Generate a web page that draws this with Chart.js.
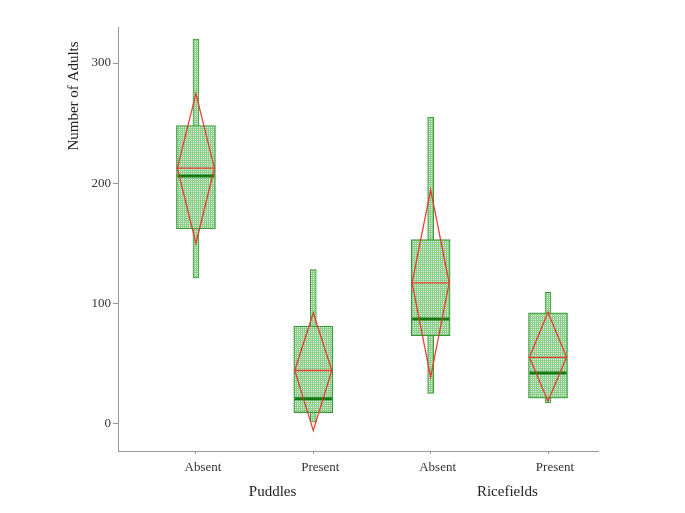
<!DOCTYPE html>
<html>
<head>
<meta charset="utf-8">
<script src="https://cdn.jsdelivr.net/npm/chart.js@4.4.1/dist/chart.umd.min.js"></script>
<style>
  html, body { margin: 0; padding: 0; background: #fff; }
  #wrap { width: 685px; height: 513px; }
</style>
</head>
<body>
<div id="wrap"><canvas id="chart" width="685" height="513"></canvas></div>
<script>
/* ── DATA ── */
const positions   = [1, 2, 3, 4];
const tickLabels  = ['Absent', 'Present', 'Absent', 'Present'];
const groupLabels = ['Puddles', 'Ricefields'];
const yTicks      = [0, 100, 200, 300];

const whiskerLow  = [121, 1, 25, 17];
const whiskerHigh = [320, 128, 255, 109];
const q1          = [162, 9, 73, 21];
const q3          = [248, 81, 153, 92];
const median      = [206, 20.5, 87, 42];
const mean        = [212.5, 44, 117, 55];
const ciLow       = [150, -6, 38.5, 18.5];
const ciHigh      = [274.5, 92, 194.5, 92.5];

/* ── STYLE ── */
const FONT      = 'Liberation Serif';
const axisClr   = '#999999';
const textClr   = '#333333';
const boxEdge   = '#359a35';
const medianClr = '#137a13';
const redClr    = 'rgba(234,50,38,0.92)';
const halfW     = 0.158;   // diamond / median half width in x units

function makeHatch() {
  const c = document.createElement('canvas');
  c.width = 2; c.height = 2;
  const g = c.getContext('2d');
  g.fillStyle = '#8ccd8c';
  g.fillRect(0, 0, 2, 2);
  g.fillStyle = '#dcf2dc';
  g.fillRect(1, 1, 1, 1);
  return g.createPattern(c, 'repeat');
}
const hatch = makeHatch();

/* build datasets */
const whiskerData = positions.map((x, i) => ({ x, y: [whiskerLow[i], whiskerHigh[i]] }));
const boxData     = positions.map((x, i) => ({ x, y: [q1[i], q3[i]] }));

const medianData = [];
const diamondData = [];
positions.forEach((x, i) => {
  medianData.push({ x: x - halfW, y: median[i] }, { x: x + halfW, y: median[i] }, { x: x + halfW, y: null });
  diamondData.push(
    { x: x - halfW, y: mean[i] },
    { x: x,         y: ciHigh[i] },
    { x: x + halfW, y: mean[i] },
    { x: x,         y: ciLow[i] },
    { x: x - halfW, y: mean[i] },
    { x: x + halfW, y: mean[i] },
    { x: x + halfW, y: null }
  );
});

/* extra text: rotated y title + group labels under the axis */
const textPlugin = {
  id: 'extraText',
  afterDraw(chart) {
    const { ctx, scales } = chart;
    ctx.save();
    ctx.fillStyle = '#222';
    ctx.font = `15px "${FONT}"`;
    ctx.textAlign = 'center';
    ctx.textBaseline = 'middle';
    groupLabels.forEach((g, gi) => {
      const mid = (positions[gi * 2] + positions[gi * 2 + 1]) / 2;
      ctx.fillText(g, scales.x.getPixelForValue(mid) + 18, 492);
    });
    ctx.translate(74, 96);
    ctx.rotate(-Math.PI / 2);
    ctx.fillText('Number of Adults', 0, 0);
    ctx.restore();
  }
};

new Chart(document.getElementById('chart').getContext('2d'), {
  type: 'bar',
  plugins: [textPlugin],
  data: {
    datasets: [
      {
        type: 'bar',
        data: whiskerData,
        backgroundColor: hatch,
        borderColor: boxEdge,
        borderWidth: 1,
        borderSkipped: false,
        barThickness: 6,
        grouped: false,
        order: 4
      },
      {
        type: 'bar',
        data: boxData,
        backgroundColor: hatch,
        borderColor: boxEdge,
        borderWidth: 1.2,
        borderSkipped: false,
        barThickness: 39,
        grouped: false,
        order: 3
      },
      {
        type: 'line',
        data: medianData,
        borderColor: medianClr,
        borderWidth: 3,
        pointRadius: 0,
        spanGaps: false,
        order: 2
      },
      {
        type: 'line',
        data: diamondData,
        borderColor: redClr,
        borderWidth: 1.3,
        pointRadius: 0,
        spanGaps: false,
        order: 1
      }
    ]
  },
  options: {
    responsive: false,
    animation: false,
    layout: { padding: { top: 27, right: 87, left: 0, bottom: 0 } },
    plugins: { legend: { display: false }, tooltip: { enabled: false } },
    scales: {
      x: {
        type: 'linear',
        min: 0.336,
        max: 4.426,
        offset: false,
        afterBuildTicks: s => { s.ticks = positions.map(v => ({ value: v })); },
        afterFit: s => { s.height = 62; },
        grid: { offset: false, drawOnChartArea: false, drawTicks: true, tickLength: 3, color: axisClr },
        border: { display: true, color: axisClr, width: 1 },
        ticks: {
          padding: 6,
          labelOffset: 7,
          color: textClr,
          font: { family: FONT, size: 13 },
          maxRotation: 0,
          autoSkip: false,
          callback: v => tickLabels[positions.indexOf(v)]
        }
      },
      y: {
        min: -23,
        max: 330,
        afterBuildTicks: s => { s.ticks = yTicks.map(v => ({ value: v })); },
        afterFit: s => { s.width = 118; },
        grid: { drawOnChartArea: false, drawTicks: true, tickLength: 5, color: axisClr },
        border: { display: true, color: axisClr, width: 1 },
        ticks: {
          padding: 2,
          color: textClr,
          font: { family: FONT, size: 13 }
        }
      }
    }
  }
});
</script>
</body>
</html>
